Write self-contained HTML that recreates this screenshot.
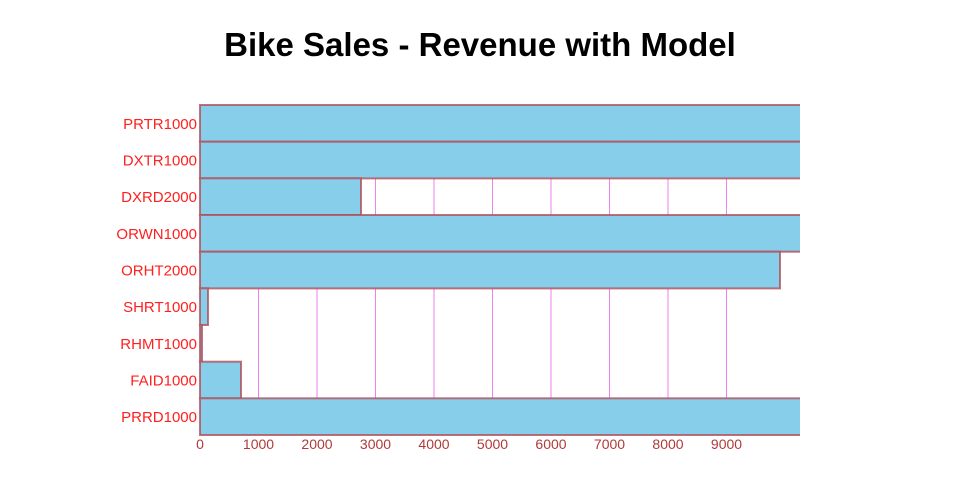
<!DOCTYPE html>
<html><head><meta charset="utf-8"><style>
html,body{margin:0;padding:0;background:#fff;width:960px;height:500px;overflow:hidden}
svg{display:block;font-family:"Liberation Sans",sans-serif}
</style></head><body>
<svg width="960" height="500" viewBox="0 0 960 500">
<text x="480" y="56" text-anchor="middle" font-size="33" font-weight="bold" fill="#000">Bike Sales - Revenue with Model</text>
<defs><clipPath id="c"><rect x="199" y="104" width="601" height="332"/></clipPath></defs>
<g stroke="#ee82ee" stroke-width="1">
<line x1="258.5" y1="105" x2="258.5" y2="435"/>
<line x1="317" y1="105" x2="317" y2="435"/>
<line x1="375.5" y1="105" x2="375.5" y2="435"/>
<line x1="434" y1="105" x2="434" y2="435"/>
<line x1="492.5" y1="105" x2="492.5" y2="435"/>
<line x1="551" y1="105" x2="551" y2="435"/>
<line x1="609.5" y1="105" x2="609.5" y2="435"/>
<line x1="668" y1="105" x2="668" y2="435"/>
<line x1="726.5" y1="105" x2="726.5" y2="435"/>
</g>
<g clip-path="url(#c)" fill="#87ceeb" stroke="#b0505a" stroke-opacity="0.8" stroke-width="2">
<rect x="200" y="105" width="620" height="36.7"/>
<rect x="200" y="141.7" width="620" height="36.7"/>
<rect x="200" y="178.3" width="161" height="36.7"/>
<rect x="200" y="215" width="620" height="36.7"/>
<rect x="200" y="251.7" width="580" height="36.7"/>
<rect x="200" y="288.3" width="8" height="36.7"/>
<rect x="200" y="325" width="2" height="36.7"/>
<rect x="200" y="361.7" width="41" height="36.7"/>
<rect x="200" y="398.3" width="620" height="36.7"/>
</g>
<g font-size="15" fill="#ff2020" text-anchor="end">
<text x="197" y="129">PRTR1000</text>
<text x="197" y="165.5">DXTR1000</text>
<text x="197" y="202">DXRD2000</text>
<text x="197" y="239">ORWN1000</text>
<text x="197" y="275.5">ORHT2000</text>
<text x="197" y="312">SHRT1000</text>
<text x="197" y="349">RHMT1000</text>
<text x="197" y="385.5">FAID1000</text>
<text x="197" y="422">PRRD1000</text>
</g>
<g font-size="14" fill="#b03a3a" text-anchor="middle">
<text x="200" y="449">0</text>
<text x="258.5" y="449">1000</text>
<text x="317" y="449">2000</text>
<text x="375.5" y="449">3000</text>
<text x="434" y="449">4000</text>
<text x="492.5" y="449">5000</text>
<text x="551" y="449">6000</text>
<text x="609.5" y="449">7000</text>
<text x="668" y="449">8000</text>
<text x="726.5" y="449">9000</text>
</g>
</svg>
</body></html>
